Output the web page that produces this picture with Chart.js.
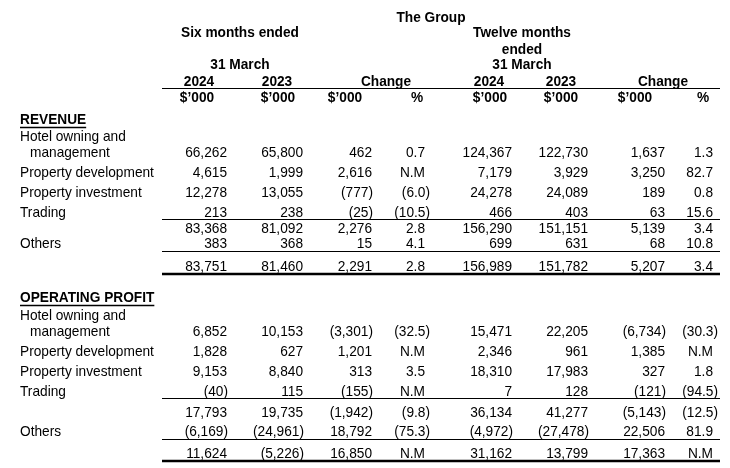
<!DOCTYPE html>
<html>
<head>
<meta charset="utf-8">
<script src="https://cdn.jsdelivr.net/npm/chart.js@4.4.1/dist/chart.umd.min.js"></script>
<style>
  html, body { margin: 0; padding: 0; background: #fff; }
  #wrap { width: 730px; height: 468px; }
</style>
</head>
<body>
<div id="wrap"><canvas id="myChart"></canvas></div>
<script>
// Segment table drawn on a Chart.js canvas

// --- data ---
const groupTitle = 'The Group';
const periodTitles = [['Six months ended', '', '31 March'], ['Twelve months', 'ended', '31 March']];
const yearLabels = ['2024', '2023', 'Change', '2024', '2023', 'Change'];
const unitLabels = ['$’000', '$’000', '$’000', '%', '$’000', '$’000', '$’000', '%'];
const sectionTitles = ['REVENUE', 'OPERATING PROFIT'];
const segments = ['Hotel owning and\nmanagement', 'Property development', 'Property investment', 'Trading', '', 'Others', ''];

// revenue $'000 (pct: null = N.M)
const revSix2024 = [66262, 4615, 12278, 213, 83368, 383, 83751];
const revSix2023 = [65800, 1999, 13055, 238, 81092, 368, 81460];
const revSixChg  = [462, 2616, -777, -25, 2276, 15, 2291];
const revSixPct  = [0.7, null, -6.0, -10.5, 2.8, 4.1, 2.8];
const revTw2024  = [124367, 7179, 24278, 466, 156290, 699, 156989];
const revTw2023  = [122730, 3929, 24089, 403, 151151, 631, 151782];
const revTwChg   = [1637, 3250, 189, 63, 5139, 68, 5207];
const revTwPct   = [1.3, 82.7, 0.8, 15.6, 3.4, 10.8, 3.4];

// operating profit $'000
const opSix2024 = [6852, 1828, 9153, -40, 17793, -6169, 11624];
const opSix2023 = [10153, 627, 8840, 115, 19735, -24961, -5226];
const opSixChg  = [-3301, 1201, 313, -155, -1942, 18792, 16850];
const opSixPct  = [-32.5, null, 3.5, null, -9.8, -75.3, null];
const opTw2024  = [15471, 2346, 18310, 7, 36134, -4972, 31162];
const opTw2023  = [22205, 961, 17983, 128, 41277, -27478, 13799];
const opTwChg   = [-6734, 1385, 327, -121, -5143, 22506, 17363];
const opTwPct   = [-30.3, null, 1.8, -94.5, -12.5, 81.9, null];

// --- layout (pixel units on the hidden scales) ---
const colRight = [227, 303, 372, 425, 512, 588, 665, 713];
const rowY = [[152, 172, 192, 212, 228, 243, 266], [331, 351, 371, 391, 412, 431, 453]];
const sectionY = [119, 297];
const yearX = [199, 277, 386, 489, 561, 663];
const unitX = [197, 278, 345, 417, 490, 561, 635, 703];
const periodX = [240, 522];
const periodY = [32, 49, 64];
const thinLines = [88, 219, 251, 398, 439];
const thickLines = [274, 461];
const ruleX = [162, 720];
const FONT = '"Liberation Sans", Arial, sans-serif';
const FONT_PX = 13.7;
const STRETCH = 1.08;   // glyphs in the source are a little taller than wide

function fmtAmt(v) {
    const s = Math.abs(v).toLocaleString('en-US');
    return v < 0 ? '(' + s + ')' : s;
}
function fmtPct(v) {
    if (v === null) return 'N.M';
    const s = Math.abs(v).toFixed(1);
    return v < 0 ? '(' + s + ')' : s;
}

const columns = [
    [revSix2024, opSix2024, fmtAmt], [revSix2023, opSix2023, fmtAmt],
    [revSixChg, opSixChg, fmtAmt], [revSixPct, opSixPct, fmtPct],
    [revTw2024, opTw2024, fmtAmt], [revTw2023, opTw2023, fmtAmt],
    [revTwChg, opTwChg, fmtAmt], [revTwPct, opTwPct, fmtPct]
];

const datasets = columns.map((col, c) => {
    const points = [];
    const cells = [];
    [col[0], col[1]].forEach((vals, s) => {
        vals.forEach((v, r) => {
            points.push({x: colRight[c], y: rowY[s][r]});
            cells.push(col[2](v));
        });
    });
    return {
        data: points,
        cells: cells,
        hang: col[2] === fmtPct ? 5 : 1,   // closing bracket hangs past the column edge
        pointRadius: 0,
        showLine: false
    };
});

// draw text with its visual middle on py
function drawText(ctx, t, px, py, align, bold) {
    ctx.font = (bold ? 'bold ' : '') + FONT_PX + 'px ' + FONT;
    ctx.textAlign = align;
    ctx.save();
    ctx.translate(px, py + 5.3);
    ctx.scale(1, STRETCH);
    ctx.fillText(t, 0, 0);
    ctx.restore();
}

const tablePlugin = {
    id: 'tableText',
    afterDatasetsDraw(chart) {
        const ctx = chart.ctx;
        const sx = chart.scales.x, sy = chart.scales.y;
        const X = v => sx.getPixelForValue(v);
        const Y = v => sy.getPixelForValue(v);
        const text = (t, x, y, align, bold) => drawText(ctx, t, X(x), Y(y), align, bold);
        ctx.save();
        ctx.fillStyle = '#000';
        ctx.strokeStyle = '#000';
        ctx.textBaseline = 'alphabetic';

        // header
        text(groupTitle, 431, 17, 'center', true);
        periodTitles.forEach((lines, p) => {
            lines.forEach((t, k) => { if (t) text(t, periodX[p], periodY[k], 'center', true); });
        });
        yearLabels.forEach((t, i) => text(t, yearX[i], 81, 'center', true));
        unitLabels.forEach((t, i) => text(t, unitX[i], 97, 'center', true));

        // section titles + row labels
        sectionTitles.forEach((t, s) => {
            text(t, 20, sectionY[s], 'left', true);
            ctx.font = 'bold ' + FONT_PX + 'px ' + FONT;
            const w = ctx.measureText(t).width;
            ctx.lineWidth = 1.4;
            ctx.beginPath();
            ctx.moveTo(X(20), Y(sectionY[s] + 8) + 0.5);
            ctx.lineTo(X(20) + w, Y(sectionY[s] + 8) + 0.5);
            ctx.stroke();
            segments.forEach((lab, r) => {
                if (!lab) return;
                const parts = lab.split('\n');
                if (parts.length > 1) {
                    text(parts[0], 20, rowY[s][r] - 16, 'left', false);
                    text(parts[1], 30, rowY[s][r], 'left', false);
                } else {
                    text(lab, 20, rowY[s][r], 'left', false);
                }
            });
        });

        // figures, placed on the dataset points
        chart.data.datasets.forEach((ds, i) => {
            chart.getDatasetMeta(i).data.forEach((pt, j) => {
                const t = ds.cells[j];
                const hang = t.endsWith(')') ? ds.hang : 0;
                drawText(ctx, t, pt.x + hang, pt.y, 'right', false);
            });
        });

        // rules
        ctx.lineWidth = 1;
        thinLines.forEach(v => {
            ctx.beginPath();
            ctx.moveTo(X(ruleX[0]), Y(v) + 0.5);
            ctx.lineTo(X(ruleX[1]), Y(v) + 0.5);
            ctx.stroke();
        });
        ctx.lineWidth = 2.5;
        thickLines.forEach(v => {
            ctx.beginPath();
            ctx.moveTo(X(ruleX[0]), Y(v));
            ctx.lineTo(X(ruleX[1]), Y(v));
            ctx.stroke();
        });
        ctx.restore();
    }
};

new Chart(document.getElementById('myChart'), {
    type: 'scatter',
    data: { datasets: datasets },
    options: {
        responsive: true,
        maintainAspectRatio: false,
        animation: false,
        layout: { padding: 0 },
        scales: {
            x: { type: 'linear', min: 0, max: 730, display: false },
            y: { type: 'linear', min: 0, max: 468, reverse: true, display: false }
        },
        plugins: {
            legend: { display: false },
            tooltip: { enabled: false },
            title: { display: false }
        }
    },
    plugins: [tablePlugin]
});
</script>
</body>
</html>
